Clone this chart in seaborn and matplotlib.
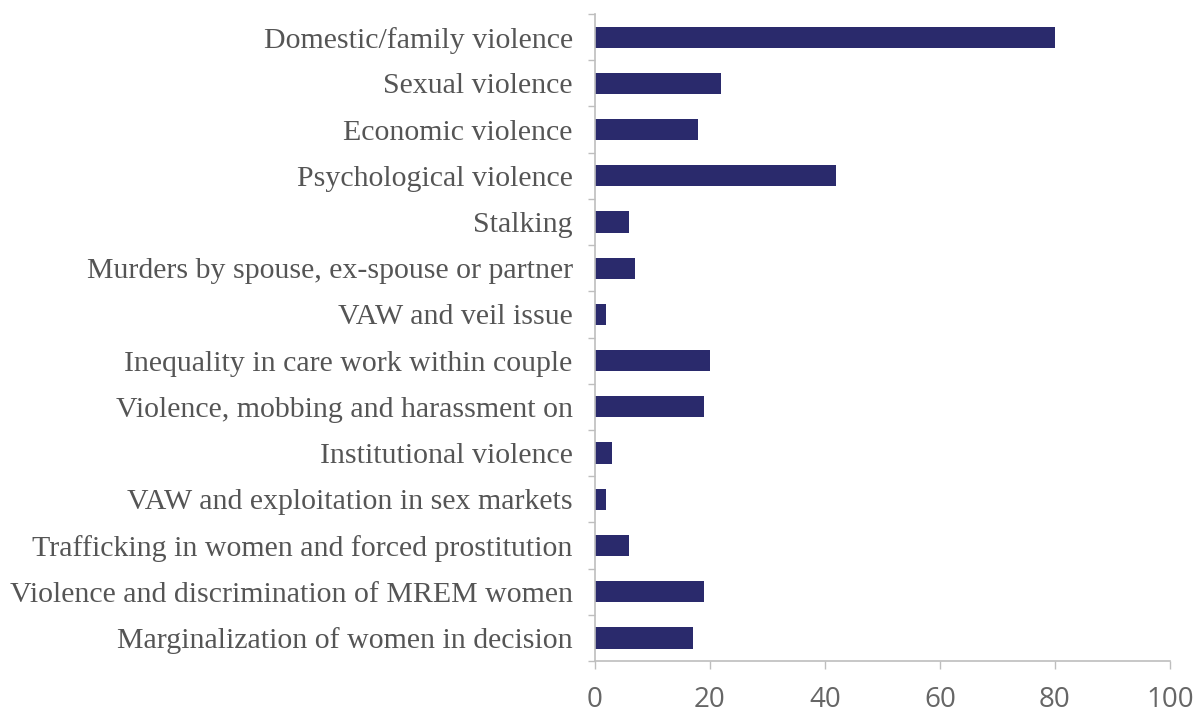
import matplotlib
matplotlib.use("Agg")
import matplotlib.pyplot as plt
import seaborn as sns
import pandas as pd
from matplotlib.ticker import FixedLocator

categories = [
    "Domestic/family violence",
    "Sexual violence",
    "Economic violence",
    "Psychological violence",
    "Stalking",
    "Murders by spouse, ex-spouse or partner",
    "VAW and veil issue",
    "Inequality in care work within couple",
    "Violence, mobbing and harassment on",
    "Institutional violence",
    "VAW and exploitation in sex markets",
    "Trafficking in women and forced prostitution",
    "Violence and discrimination of MREM women",
    "Marginalization of women in decision",
]
values = [80, 22, 18, 42, 6, 7, 2, 20, 19, 3, 2, 6, 19, 17]
x_ticks = [0, 20, 40, 60, 80, 100]

df = pd.DataFrame({"topic": categories, "count": values})

sns.set_theme(style="white")
fig = plt.figure(figsize=(12, 7.16), dpi=100)
ax = fig.add_axes([0.4958, 0.0768, 0.4792, 0.9036])

sns.barplot(data=df, y="topic", x="count", orient="h", color="#2A2A6C",
            saturation=1, width=0.46, linewidth=0, ax=ax)

ax.set_xlim(0, 100)
ax.set_ylim(len(categories) - 0.5, -0.5)
ax.set_xlabel("")
ax.set_ylabel("")

axis_grey = "#BEBEBE"
for side in ["top", "right"]:
    ax.spines[side].set_visible(False)
for side in ["left", "bottom"]:
    ax.spines[side].set_color(axis_grey)
    ax.spines[side].set_linewidth(1.2)

ax.set_xticks(x_ticks)
ax.set_xticklabels([str(t) for t in x_ticks], fontsize=20,
                   family=["Open Sans", "DejaVu Sans"], color="#666666")
ax.tick_params(axis="x", direction="out", length=6, width=1, color=axis_grey,
               pad=12, bottom=True)

# category labels sit between boundary tick marks
ax.set_yticks(range(len(categories)))
ax.set_yticklabels(categories, fontsize=21.5, family=["Liberation Serif", "DejaVu Serif"],
                   color="#555555")
ax.tick_params(axis="y", which="major", length=0, pad=16)
ax.yaxis.set_minor_locator(FixedLocator([i - 0.5 for i in range(len(categories) + 1)]))
ax.tick_params(axis="y", which="minor", direction="out", length=5, width=1,
               color=axis_grey, left=True)

fig.savefig("out.png", dpi=100, facecolor="white")
